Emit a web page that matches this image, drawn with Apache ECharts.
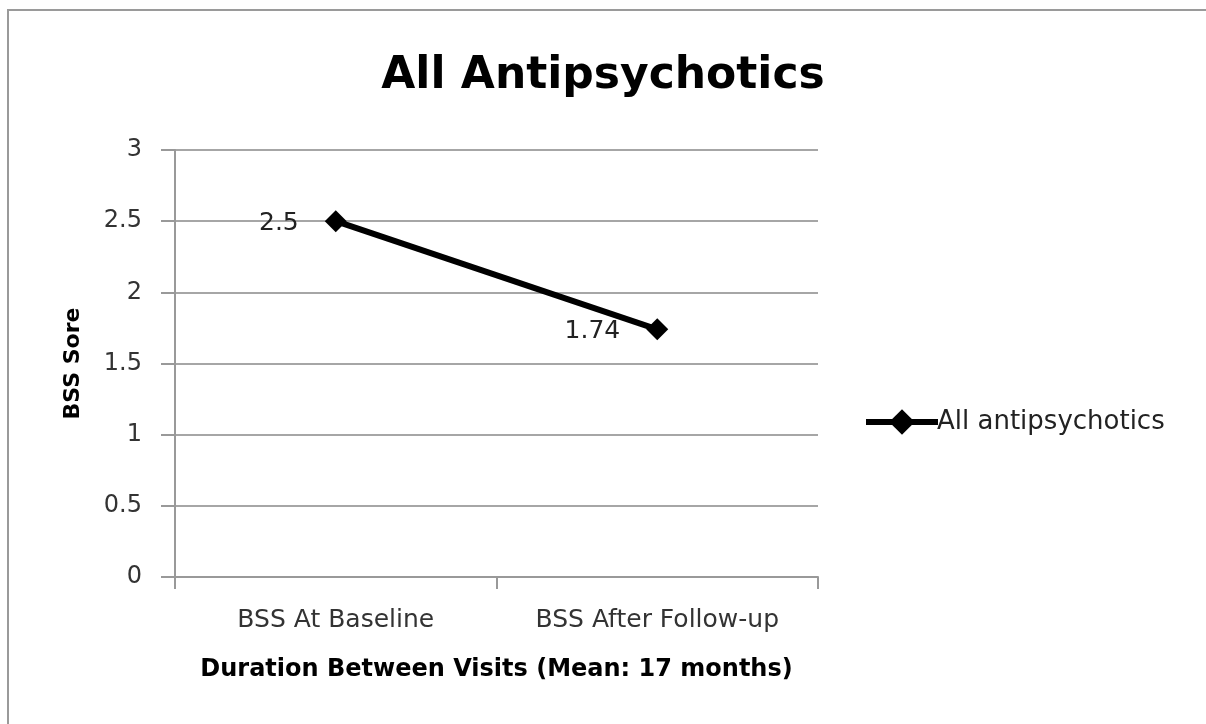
<!DOCTYPE html>
<html>
<head>
<meta charset="utf-8">
<script src="https://cdn.jsdelivr.net/npm/echarts@6/dist/echarts.min.js"></script>
<style>
  html, body { margin: 0; padding: 0; background: #fff; }
  #chart { width: 1206px; height: 724px; }
</style>
</head>
<body>
<div id="chart"></div>
<script>
// Mean BSS score at the two visits
const categories = ['BSS At Baseline', 'BSS After Follow-up'];
const seriesName = 'All antipsychotics';
const bssValues = [2.5, 1.74];
const yTicks = { min: 0, max: 3, interval: 0.5 };

const FONT = '"DejaVu Sans", "Liberation Sans", sans-serif';
const chart = echarts.init(document.getElementById('chart'));

chart.setOption({
  animation: false,
  backgroundColor: '#ffffff',
  graphic: [{
    type: 'rect',
    shape: { x: 8, y: 10, width: 1300, height: 800 },
    style: { fill: 'none', stroke: '#9a9a9a', lineWidth: 2 },
    silent: true
  }],
  title: {
    text: 'All Antipsychotics',
    left: 'center',
    top: 50,
    textStyle: { fontFamily: FONT, fontSize: 44, fontWeight: 'bold', color: '#000' }
  },
  legend: {
    left: 858,
    top: 404,
    itemWidth: 72,
    itemHeight: 32,
    itemGap: 0,
    data: [seriesName],
    lineStyle: { width: 6 },
    textStyle: { fontFamily: FONT, fontSize: 26, color: '#222', padding: [0, 0, 0, -6] }
  },
  grid: { left: 175, right: 388, top: 150, bottom: 147 },
  xAxis: {
    type: 'category',
    data: categories,
    boundaryGap: true,
    name: 'Duration Between Visits (Mean: 17 months)',
    nameLocation: 'middle',
    nameGap: 81,
    nameTextStyle: { fontFamily: FONT, fontSize: 24, fontWeight: 'bold', color: '#000' },
    axisLine: { lineStyle: { color: '#999', width: 2 } },
    axisTick: { show: true, interval: 0, length: 12, lineStyle: { color: '#999', width: 2 } },
    axisLabel: { interval: 0, hideOverlap: false, fontFamily: FONT, fontSize: 25, color: '#333', margin: 31 }
  },
  yAxis: {
    type: 'value',
    min: yTicks.min,
    max: yTicks.max,
    interval: yTicks.interval,
    name: 'BSS Sore',
    nameLocation: 'middle',
    nameGap: 91,
    nameTextStyle: { fontFamily: FONT, fontSize: 22, fontWeight: 'bold', color: '#000' },
    axisLine: { show: true, lineStyle: { color: '#999', width: 2 } },
    axisTick: { show: true, length: 14, lineStyle: { color: '#999', width: 2 } },
    axisLabel: { fontFamily: FONT, fontSize: 24, color: '#333', margin: 33 },
    splitLine: { lineStyle: { color: '#a6a6a6', width: 2 } }
  },
  series: [{
    name: seriesName,
    type: 'line',
    data: bssValues,
    symbol: 'diamond',
    symbolSize: 22,
    lineStyle: { color: '#000', width: 6 },
    itemStyle: { color: '#000' },
    label: {
      show: true,
      position: 'left',
      distance: 26,
      fontFamily: FONT,
      fontSize: 25,
      color: '#222',
      offset: [0, 2]
    }
  }]
});
</script>
</body>
</html>
